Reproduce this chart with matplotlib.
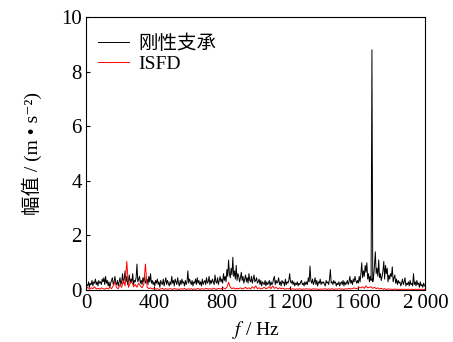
import numpy as np
import matplotlib
matplotlib.use('Agg')
import matplotlib.pyplot as plt

plt.rcParams['font.family'] = ['Liberation Serif', 'Noto Sans CJK SC', 'DejaVu Sans']
plt.rcParams['mathtext.fontset'] = 'stix'

# rigid support (black), 5 Hz step
freq_rigid = np.arange(0, 2001, 5)
rigid = [
    0.1, 0.2, 0.15, 0.3, 0.1, 0.25, 0.2, 0.35, 0.15, 0.3,
    0.25, 0.4, 0.2, 0.3, 0.15, 0.35, 0.25, 0.3, 0.2, 0.4,
    0.3, 0.45, 0.2, 0.5, 0.25, 0.35, 0.15, 0.3, 0.1, 0.25,
    0.35, 0.45, 0.2, 0.3, 0.5, 0.25, 0.2, 0.35, 0.15, 0.3,
    0.45, 0.2, 0.3, 0.6, 0.25, 0.4, 0.7, 0.3, 0.5, 0.2,
    0.35, 0.55, 0.25, 0.4, 0.3, 0.6, 0.2, 0.35, 0.3, 0.45,
    0.95, 0.3, 0.4, 0.5, 0.25, 0.35, 0.2, 0.45, 0.3, 0.55,
    0.25, 0.3, 0.4, 0.2, 0.5, 0.3, 0.6, 0.25, 0.35, 0.2,
    0.3, 0.15, 0.35, 0.25, 0.4, 0.2, 0.3, 0.1, 0.35, 0.25,
    0.2, 0.4, 0.15, 0.3, 0.45, 0.2, 0.35, 0.25, 0.15, 0.3,
    0.2, 0.5, 0.25, 0.35, 0.15, 0.4, 0.3, 0.2, 0.45, 0.25,
    0.15, 0.35, 0.2, 0.4, 0.25, 0.3, 0.15, 0.35, 0.2, 0.3,
    0.7, 0.25, 0.4, 0.3, 0.2, 0.35, 0.15, 0.3, 0.25, 0.4,
    0.2, 0.45, 0.25, 0.35, 0.2, 0.3, 0.15, 0.4, 0.2, 0.3,
    0.35, 0.2, 0.45, 0.25, 0.3, 0.5, 0.2, 0.35, 0.25, 0.4,
    0.3, 0.2, 0.55, 0.3, 0.25, 0.45, 0.2, 0.35, 0.5, 0.3,
    0.4, 0.25, 0.6, 0.35, 0.5, 0.3, 0.75, 0.5, 1.1, 0.6,
    0.45, 0.8, 0.55, 1.2, 0.5, 0.7, 0.4, 0.9, 0.35, 0.6,
    0.5, 0.3, 0.45, 0.65, 0.35, 0.5, 0.25, 0.4, 0.55, 0.3,
    0.45, 0.25, 0.6, 0.35, 0.3, 0.5, 0.25, 0.4, 0.55, 0.3,
    0.35, 0.45, 0.25, 0.3, 0.4, 0.2, 0.35, 0.15, 0.3, 0.25,
    0.2, 0.35, 0.15, 0.3, 0.2, 0.25, 0.35, 0.15, 0.3, 0.2,
    0.25, 0.4, 0.5, 0.2, 0.35, 0.25, 0.3, 0.45, 0.2, 0.3,
    0.15, 0.35, 0.25, 0.3, 0.15, 0.4, 0.2, 0.3, 0.25, 0.35,
    0.6, 0.3, 0.25, 0.35, 0.2, 0.3, 0.15, 0.25, 0.2, 0.3,
    0.15, 0.25, 0.2, 0.3, 0.35, 0.2, 0.25, 0.15, 0.3, 0.2,
    0.3, 0.2, 0.45, 0.3, 0.88, 0.35, 0.25, 0.4, 0.2, 0.3,
    0.45, 0.2, 0.35, 0.15, 0.3, 0.25, 0.4, 0.2, 0.3, 0.25,
    0.3, 0.2, 0.15, 0.35, 0.25, 0.3, 0.2, 0.4, 0.75, 0.25,
    0.3, 0.2, 0.35, 0.25, 0.3, 0.15, 0.25, 0.2, 0.3, 0.15,
    0.25, 0.3, 0.2, 0.35, 0.15, 0.3, 0.2, 0.25, 0.35, 0.2,
    0.3, 0.5, 0.25, 0.35, 0.2, 0.4, 0.3, 0.5, 0.35, 0.25,
    0.35, 0.25, 0.5, 0.3, 0.6, 1.0, 0.45, 0.7, 0.5, 0.9,
    0.65, 1.0, 0.4, 0.6, 0.3, 0.5, 0.35, 8.8, 0.3, 0.5,
    0.9, 1.4, 0.6, 0.8, 0.5, 1.1, 0.45, 0.6, 0.35, 0.5,
    0.7, 1.05, 0.4, 0.9, 0.6, 0.8, 0.3, 0.55, 0.4, 0.6,
    0.5, 0.85, 0.3, 0.45, 0.55, 0.25, 0.4, 0.2, 0.35, 0.25,
    0.3, 0.15, 0.25, 0.4, 0.2, 0.3, 0.45, 0.15, 0.25, 0.2,
    0.3, 0.15, 0.35, 0.2, 0.25, 0.15, 0.6, 0.2, 0.3, 0.15,
    0.35, 0.2, 0.25, 0.1, 0.3, 0.15, 0.2, 0.1, 0.25, 0.15,
    0.15,
]

# ISFD (red), 10 Hz step
freq_isfd = np.arange(0, 2001, 10)
isfd = [
    0.05, 0.1, 0.03, 0.08, 0.05, 0.12, 0.04, 0.06, 0.03, 0.08,
    0.05, 0.03, 0.07, 0.04, 0.1, 0.05, 0.15, 0.3, 0.08, 0.05,
    0.2, 0.1, 0.35, 0.15, 1.05, 0.1, 0.25, 0.3, 0.12, 0.2,
    0.1, 0.25, 0.15, 0.08, 0.2, 0.95, 0.1, 0.05, 0.08, 0.04,
    0.06, 0.03, 0.05, 0.02, 0.04, 0.06, 0.02, 0.05, 0.03, 0.04,
    0.05, 0.02, 0.06, 0.03, 0.04, 0.02, 0.05, 0.03, 0.06, 0.02,
    0.04, 0.03, 0.05, 0.02, 0.04, 0.03, 0.06, 0.02, 0.05, 0.03,
    0.04, 0.06, 0.03, 0.05, 0.02, 0.07, 0.04, 0.03, 0.06, 0.04,
    0.05, 0.08, 0.04, 0.1, 0.28, 0.1, 0.05, 0.08, 0.04, 0.06,
    0.05, 0.08, 0.04, 0.06, 0.1, 0.05, 0.08, 0.04, 0.12, 0.06,
    0.15, 0.05, 0.08, 0.04, 0.06, 0.1, 0.05, 0.07, 0.12, 0.05,
    0.15, 0.06, 0.1, 0.04, 0.08, 0.05, 0.07, 0.03, 0.05, 0.04,
    0.06, 0.03, 0.05, 0.02, 0.04, 0.03, 0.05, 0.02, 0.04, 0.03,
    0.05, 0.03, 0.04, 0.02, 0.05, 0.03, 0.04, 0.02, 0.03, 0.04,
    0.03, 0.05, 0.02, 0.04, 0.03, 0.05, 0.02, 0.04, 0.03, 0.05,
    0.03, 0.04, 0.02, 0.05, 0.03, 0.06, 0.04, 0.05, 0.08, 0.05,
    0.06, 0.1, 0.08, 0.12, 0.06, 0.15, 0.08, 0.1, 0.12, 0.06,
    0.1, 0.05, 0.08, 0.04, 0.06, 0.03, 0.05, 0.02, 0.04, 0.03,
    0.03, 0.02, 0.04, 0.02, 0.03, 0.02, 0.03, 0.02, 0.03, 0.02,
    0.03, 0.02, 0.03, 0.02, 0.03, 0.02, 0.03, 0.02, 0.03, 0.02,
    0.02,
]

xticks = [0, 400, 800, 1200, 1600, 2000]
xticklabels = ['0', '400', '800', '1\u2009200', '1\u2009600', '2\u2009000']
yticks = [0, 2, 4, 6, 8, 10]

fig = plt.figure(figsize=(4.53, 3.42), dpi=100)
ax = fig.add_axes([0.19, 0.152, 0.749, 0.798])

ax.plot(freq_rigid, rigid, color='black', linewidth=0.7, label='刚性支承')
ax.plot(freq_isfd, isfd, color='red', linewidth=0.7, label='ISFD')

ax.set_xlim(0, 2000)
ax.set_ylim(0, 10)
ax.set_xticks(xticks)
ax.set_xticklabels(xticklabels)
ax.set_yticks(yticks)
ax.tick_params(direction='in', labelsize=15, length=3, width=0.8, pad=3)

ax.set_xlabel('$f$ / Hz', fontsize=14, labelpad=4)
ax.set_ylabel('幅值 / (m • s⁻²)', fontsize=14, labelpad=14)

ax.legend(loc='upper left', frameon=False, fontsize=14, handlelength=1.6,
          handletextpad=0.5, labelspacing=0.15, borderaxespad=0.2,
          bbox_to_anchor=(0.0, 0.98))

fig.savefig('out.png', dpi=100)
